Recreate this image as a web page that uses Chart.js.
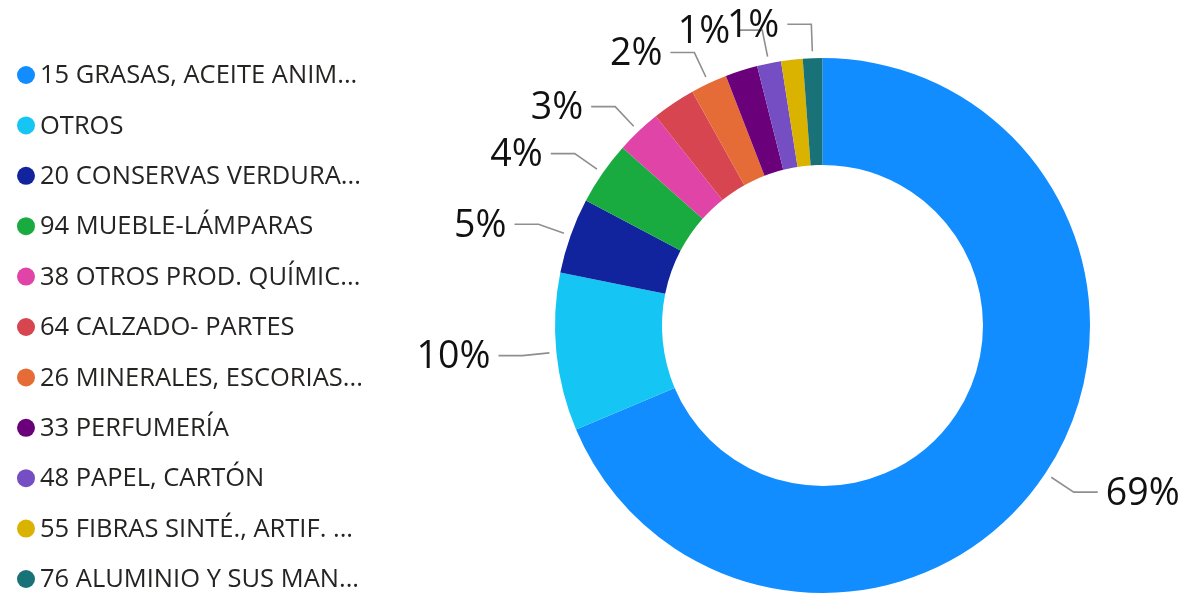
<!DOCTYPE html>
<html>
<head>
<meta charset="utf-8">
<script src="https://cdn.jsdelivr.net/npm/chart.js@4.4.1/dist/chart.umd.min.js"></script>
<style>
html,body{margin:0;padding:0;background:#ffffff;overflow:hidden}
#wrap{position:relative;width:1186px;height:594px}
</style>
</head>
<body>
<div id="wrap"><canvas id="c" width="1186" height="594"></canvas></div>
<script>
// ---- data ----
const categories = [
  "15 GRASAS, ACEITE ANIM...",
  "OTROS",
  "20 CONSERVAS VERDURA...",
  "94 MUEBLE-LÁMPARAS",
  "38 OTROS PROD. QUÍMIC...",
  "64 CALZADO- PARTES",
  "26 MINERALES, ESCORIAS...",
  "33 PERFUMERÍA",
  "48 PAPEL, CARTÓN",
  "55 FIBRAS SINTÉ., ARTIF. ...",
  "76 ALUMINIO Y SUS MAN..."
];
const values = [68.65, 9.53, 4.56, 3.84, 2.72, 2.62, 2.21, 1.95, 1.45, 1.30, 1.18];
const colors = ["#118DFF", "#15C6F4", "#12239E", "#1AAB40", "#E044A7", "#D64550",
                "#E66C37", "#6B007B", "#744EC2", "#D9B300", "#197278"];
const showPct = [true, true, true, true, true, false, true, false, true, false, true];

const FONT = "'Open Sans', 'Noto Sans', sans-serif";
const TEXT_COLOR = "#252423";

const sideLegend = {
  id: 'sideLegend',
  afterDraw(chart) {
    const ctx = chart.ctx;
    ctx.save();
    ctx.font = "25.5px " + FONT;
    ctx.textBaseline = 'middle';
    ctx.textAlign = 'left';
    categories.forEach((name, i) => {
      const y = 75 + i * 50.4;
      ctx.fillStyle = colors[i];
      ctx.beginPath();
      ctx.arc(26, y, 9, 0, Math.PI * 2);
      ctx.fill();
      ctx.fillStyle = TEXT_COLOR;
      ctx.fillText(name, 40, y + 1);
    });
    ctx.restore();
  }
};

const pctLabels = {
  id: 'pctLabels',
  afterDatasetsDraw(chart) {
    const ctx = chart.ctx;
    const meta = chart.getDatasetMeta(0);
    const data = chart.data.datasets[0].data;
    const total = data.reduce((a, b) => a + b, 0);
    ctx.save();
    ctx.font = "37.5px " + FONT;
    ctx.textBaseline = 'middle';
    meta.data.forEach((arc, i) => {
      if (!showPct[i]) return;
      const p = arc.getProps(['x', 'y', 'startAngle', 'endAngle', 'outerRadius'], true);
      const mid = (p.startAngle + p.endAngle) / 2;
      const c = Math.cos(mid), s = Math.sin(mid);
      const r0 = p.outerRadius + 7, r1 = p.outerRadius + 34;
      const x0 = p.x + r0 * c, y0 = p.y + r0 * s;
      const x1 = p.x + r1 * c, y1 = p.y + r1 * s;
      const dir = c >= 0 ? 1 : -1;
      const x2 = x1 + dir * 24;
      ctx.strokeStyle = '#8f8f8f';
      ctx.lineWidth = 1.6;
      ctx.beginPath();
      ctx.moveTo(x0, y0);
      ctx.lineTo(x1, y1);
      ctx.lineTo(x2, y1);
      ctx.stroke();
      ctx.fillStyle = '#111111';
      ctx.textAlign = dir > 0 ? 'left' : 'right';
      ctx.fillText(Math.round(data[i] / total * 100) + '%', x2 + dir * 8, y1 + 2);
    });
    ctx.restore();
  }
};

new Chart(document.getElementById('c'), {
  type: 'doughnut',
  data: {
    labels: categories,
    datasets: [{
      data: values,
      backgroundColor: colors,
      borderWidth: 0,
      hoverOffset: 0
    }]
  },
  options: {
    responsive: false,
    devicePixelRatio: 1,
    animation: false,
    cutout: '60%',
    layout: { padding: { top: 58, bottom: 1, left: 519, right: 60 } },
    plugins: {
      legend: { display: false },
      tooltip: { enabled: false }
    }
  },
  plugins: [pctLabels, sideLegend]
});
</script>
</body>
</html>
